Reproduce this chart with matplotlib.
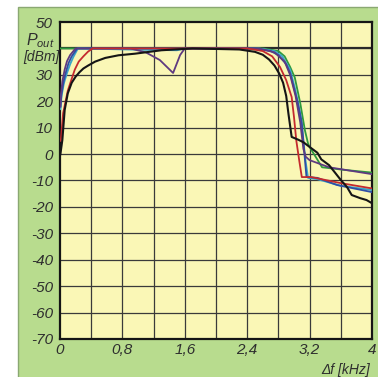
import matplotlib
matplotlib.use("Agg")
import matplotlib.pyplot as plt
from matplotlib.patches import Rectangle

plt.rcParams['mathtext.fontset'] = 'custom'
plt.rcParams['mathtext.it'] = 'Liberation Sans:italic'
plt.rcParams['mathtext.rm'] = 'Liberation Sans:italic'

# ---- data (frequency offset in kHz, output power in dBm) ----
black_x = [0.005, 0.03, 0.06, 0.10, 0.15, 0.20, 0.25, 0.30, 0.36, 0.45, 0.58, 0.75, 0.96, 1.3, 1.7, 2.3, 2.5, 2.6,
           2.68, 2.75, 2.81, 2.86, 2.90, 2.93, 2.97,
           3.05, 3.12, 3.20, 3.30, 3.35, 3.45, 3.52, 3.60, 3.68, 3.74, 3.85, 3.93, 4.0]
black_y = [0, 5.3, 16.7, 23, 27, 29.3, 31, 32.4, 33.5, 35, 36.4, 37.4, 38, 39.3, 40, 39.6, 38.7, 37.6,
           35.8, 33.5, 30.5, 27, 22, 15, 6.5,
           5.5, 4.5, 2.7, 0.5, -2, -4.2, -6.8, -9.8, -12.5, -15.5, -16.7, -17.4, -18.6]

red_x = [0.01, 0.04, 0.10, 0.15, 0.19, 0.24, 0.30, 0.36, 0.42, 2.4, 2.6, 2.72, 2.82, 2.90, 2.97, 3.00, 3.03, 3.07,
         3.10, 3.22, 3.6, 4.0]
red_y = [5, 15.5, 24, 28.5, 32, 35, 37, 38.8, 40, 40, 39, 37, 33, 28, 21.6, 14, 5, -3,
         -8.7, -8.7, -11, -13]

purple_x = [0.005, 0.01, 0.03, 0.06, 0.09, 0.13, 0.20, 0.9, 1.1, 1.28, 1.45, 1.54, 1.60, 2.55, 2.75, 2.88, 2.95, 3.02,
            3.08, 3.12, 3.15, 3.20, 3.45, 4.0]
purple_y = [18, 21.6, 27.5, 32, 35.2, 37.5, 40, 40, 38.5, 35.6, 30.7, 37.5, 40, 40, 38.5, 35, 30, 22,
            12, 2, -1, -2.3, -5, -7.6]

cyan_x = [0.005, 0.02, 0.05, 0.09, 0.13, 0.17, 0.23, 1.0, 1.5, 1.6, 2.55, 2.75, 2.85, 2.95, 3.02, 3.08, 3.12, 3.15,
          3.18, 3.3, 3.6, 4.0]
cyan_y = [17, 22, 26.8, 30.7, 34, 36.7, 40, 39.5, 39.3, 40, 40, 39, 37, 32, 24, 15, 5, -3,
          -9, -9.5, -12, -13.6]

blue_x = [0.005, 0.02, 0.05, 0.08, 0.11, 0.15, 0.22, 2.5, 2.7, 2.8, 2.9, 2.95, 3.0, 3.05, 3.10, 3.12, 3.14, 3.16,
          3.3, 3.55, 4.0]
blue_y = [18, 23, 28, 31.5, 34.5, 37, 40, 40, 39, 37.5, 34, 30.7, 25, 19.3, 12, 5, -2, -8.7,
          -9, -11.7, -14.4]

green_x = [0.0, 2.6, 2.8, 2.88, 2.95, 3.01, 3.08, 3.14, 3.18, 3.2, 3.36, 3.65, 4.0]
green_y = [40, 40, 39, 37, 33, 29, 19.3, 9, 4, 2.7, -5, -6, -7]

xticks = [0, 0.8, 1.6, 2.4, 3.2, 4]
xticklabels = ['0', '0,8', '1,6', '2,4', '3,2', '4']
yticks = [50, 30, 20, 10, 0, -10, -20, -30, -40, -50, -60, -70]
yticklabels = ['50', '30', '20', '10', '0', '-10', '-20', '-30', '-40', '-50', '-60', '-70']

W, H = 378, 377
fig = plt.figure(figsize=(W / 100, H / 100), dpi=100)
fig.patch.set_facecolor('white')

bgax = fig.add_axes([0, 0, 1, 1], zorder=0)
bgax.set_axis_off()
bgax.set_xlim(0, W)
bgax.set_ylim(0, H)
bgax.add_patch(Rectangle((18, -2), W, H - 7 + 2, facecolor='#b8dc8e', edgecolor='#8aa872', linewidth=1.0))

ax = fig.add_axes([60 / W, (H - 339) / H, (372 - 60) / W, (339 - 22) / H], zorder=2)
ax.set_facecolor('#faf7b6')
ax.set_xlim(0, 4)
ax.set_ylim(-70, 50)

# grid
for gx in [0.4 * i for i in range(1, 10)]:
    ax.axvline(gx, color='#3a3a3a', lw=0.9, zorder=1)
for gy in range(-60, 50, 10):
    ax.axhline(gy, color='#3a3a3a', lw=0.9, zorder=1)
ax.axhline(40, color='#2a2a2a', lw=1.6, zorder=1)

lw = 1.3
ax.plot(green_x, green_y, color='#2e9a3e', lw=lw, zorder=3)
ax.plot(cyan_x, cyan_y, color='#3aa6c8', lw=lw, zorder=3)
ax.plot(blue_x, blue_y, color='#2e4ea6', lw=lw, zorder=3)
ax.plot(purple_x, purple_y, color='#5e3a80', lw=lw, zorder=4)
ax.plot(red_x, red_y, color='#c42a2e', lw=lw, zorder=4)
ax.plot(black_x, black_y, color='#151515', lw=1.5, zorder=5)

for s in ax.spines.values():
    s.set_linewidth(1.6)
    s.set_color('#151515')

ax.set_xticks(xticks)
ax.set_xticklabels(xticklabels)
ax.set_yticks(yticks)
ax.set_yticklabels(yticklabels)
ax.tick_params(length=0, pad=5, labelsize=11, labelcolor='#2e2e2e')
ax.tick_params(axis='x', pad=3)
for lab in ax.get_xticklabels() + ax.get_yticklabels():
    lab.set_fontfamily('Liberation Sans')
    lab.set_fontstyle('italic')

fig.text(40 / W, 1 - 41 / H, r'$P_{out}$', fontsize=11.5, color='#2e2e2e', ha='center', va='center', zorder=3)
fig.text(41 / W, 1 - 57 / H, '[dBm]', fontsize=10, color='#2e2e2e', ha='center', va='center',
         family='Liberation Sans', style='italic', zorder=3)
fig.text(346 / W, 1 - 370 / H, 'Δf [kHz]', fontsize=10, color='#2e2e2e', ha='center', va='center',
         family='Liberation Sans', style='italic', zorder=3)

fig.savefig('out.png', dpi=100, facecolor=fig.get_facecolor())
